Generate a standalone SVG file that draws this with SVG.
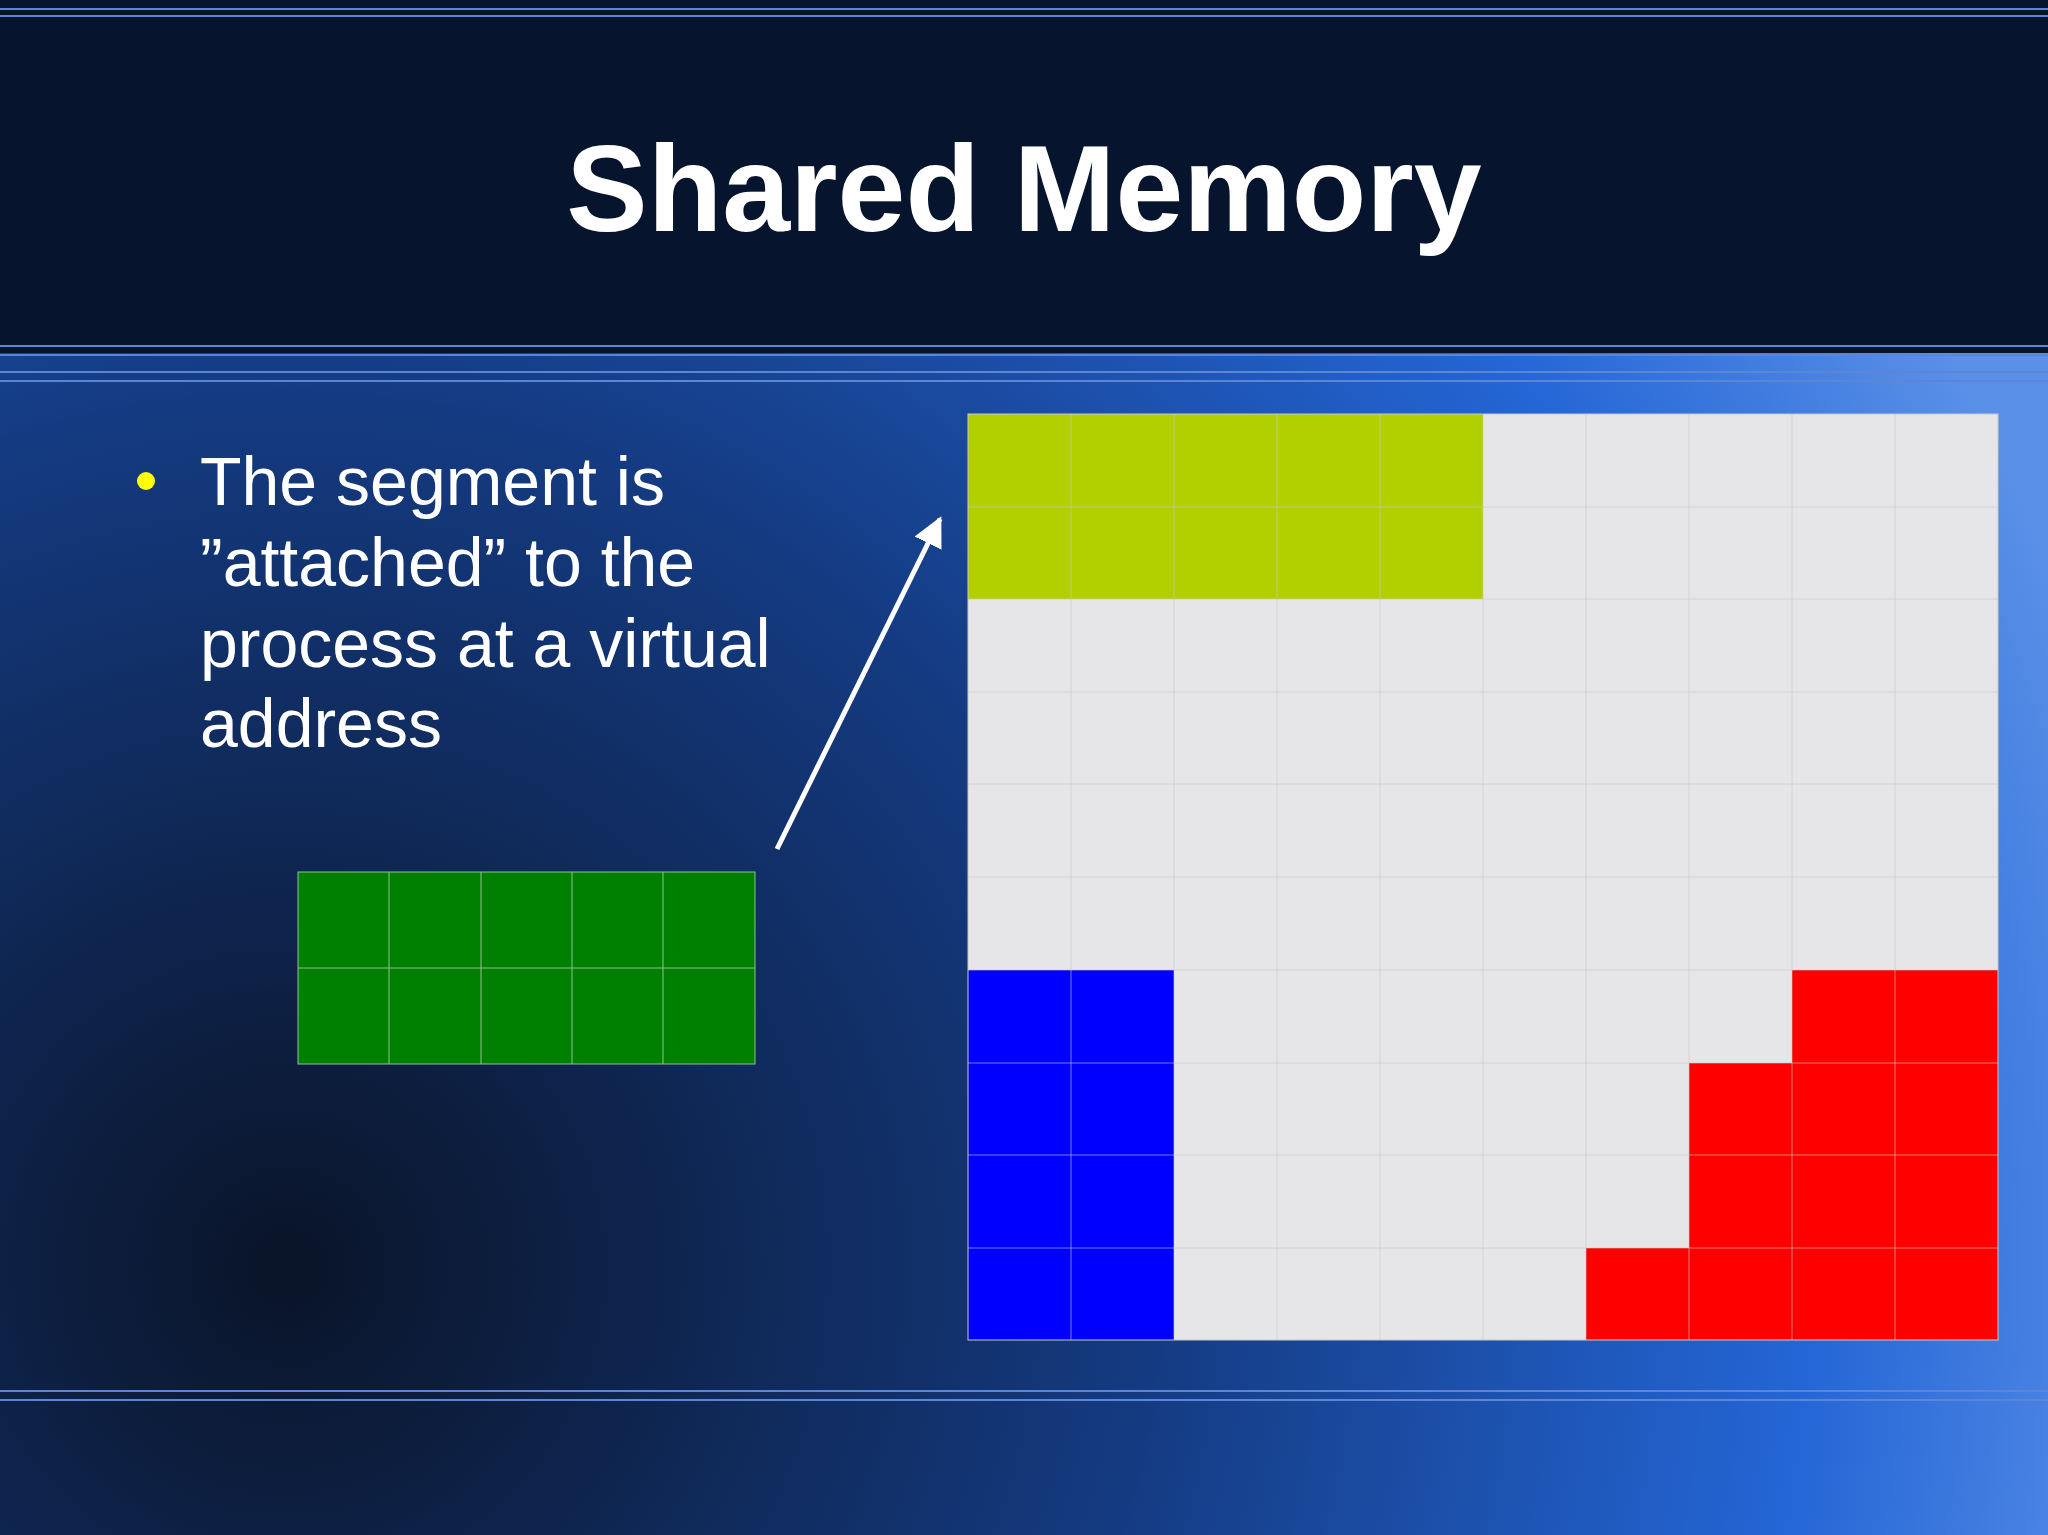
<svg xmlns="http://www.w3.org/2000/svg" width="2048" height="1535" viewBox="0 0 2048 1535">
<defs>
<radialGradient id="bg" cx="287" cy="1267" r="1900" gradientUnits="userSpaceOnUse">
<stop offset="0" stop-color="#0a1428"/>
<stop offset="0.45" stop-color="#143a80"/>
<stop offset="0.8" stop-color="#2466d6"/>
<stop offset="1" stop-color="#5a90e8"/>
</radialGradient>
<marker id="ah" viewBox="0 0 10 10" refX="9" refY="5" markerWidth="6" markerHeight="6" orient="auto" markerUnits="strokeWidth">
<path d="M0,0 L10,5 L0,10 z" fill="#fff"/>
</marker>
<style>
.hl{stroke:#5b86d6;stroke-width:2}
.g{stroke:#c8c8cc;stroke-width:1;fill:none;opacity:0.6}
.t{font-family:"Liberation Sans",Arial,sans-serif;fill:#fff}
</style>
</defs>
<rect width="2048" height="1535" fill="url(#bg)"/>
<rect width="2048" height="353" fill="#07142e"/>
<g>
<line class="hl" x1="0" y1="9" x2="2048" y2="9"/><line class="hl" x1="0" y1="16" x2="2048" y2="16"/>
<line class="hl" x1="0" y1="346" x2="2048" y2="346"/><line class="hl" x1="0" y1="355" x2="2048" y2="355"/>
<line class="hl" x1="0" y1="372" x2="2048" y2="372"/><line class="hl" x1="0" y1="381" x2="2048" y2="381"/>
<line class="hl" x1="0" y1="1391" x2="2048" y2="1391"/><line class="hl" x1="0" y1="1400" x2="2048" y2="1400"/>
</g>
<text id="title" class="t" x="1024" y="231" font-size="122" font-weight="bold" text-anchor="middle">Shared Memory</text>
<g id="bullet">
<circle cx="146" cy="481" r="9" fill="#ffff00"/>
<text class="t" font-size="68"><tspan x="200" y="505">The segment is</tspan><tspan x="200" y="586">”attached” to the</tspan><tspan x="200" y="667">process at a virtual</tspan><tspan x="200" y="747">address</tspan></text>
</g>
<g id="memory">
<rect x="968" y="414" width="1030" height="926" fill="#e6e5e8"/>
<rect x="968" y="414" width="515" height="185" fill="#b2cf00"/>
<rect x="968" y="970" width="206" height="370" fill="#0000ff"/>
<path d="M1792,970 H1998 V1340 H1586 V1248 H1689 V1063 H1792 Z" fill="#ff0000"/>
<path class="g" d="M1071,414V1340M1174,414V1340M1277,414V1340M1380,414V1340M1483,414V1340M1586,414V1340M1689,414V1340M1792,414V1340M1895,414V1340M968,507H1998M968,599H1998M968,692H1998M968,784H1998M968,877H1998M968,970H1998M968,1063H1998M968,1155H1998M968,1248H1998"/>
<rect x="968" y="414" width="1030" height="926" fill="none" stroke="#c8c8cc" stroke-width="1"/>
</g>
<g id="segment">
<rect x="298" y="872" width="457" height="192" fill="#008000" stroke="#8fc08f" stroke-width="1"/>
<path d="M389,872V1064M481,872V1064M572,872V1064M663,872V1064M298,968H755" stroke="#8fc08f" stroke-width="1" fill="none"/>
</g>
<g id="connectors">
<line x1="777" y1="849" x2="940" y2="519" stroke="#fff" stroke-width="5" marker-end="url(#ah)"/>
</g>
</svg>
